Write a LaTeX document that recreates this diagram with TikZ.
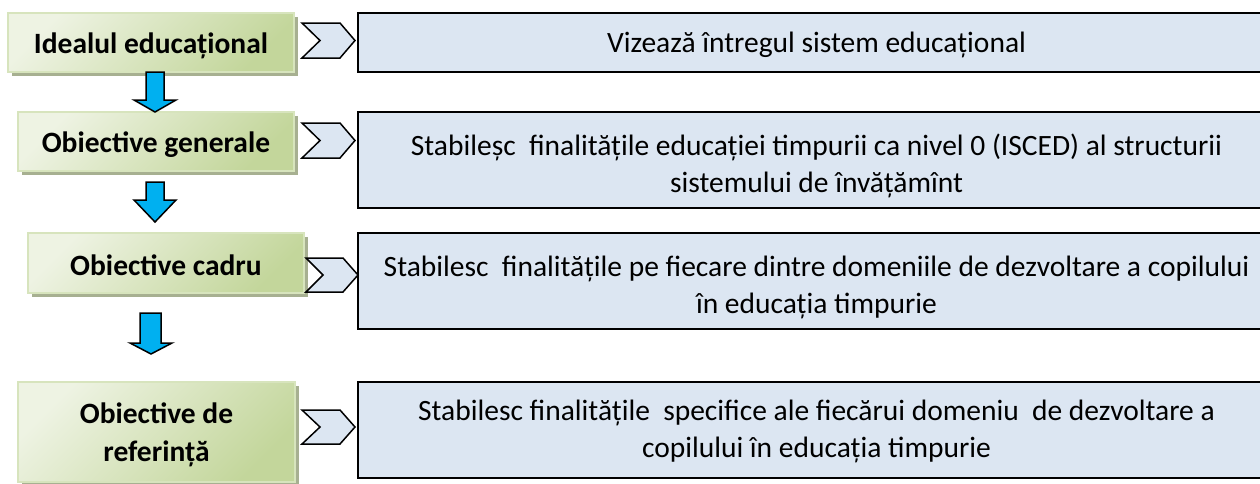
\documentclass[tikz,border=0pt]{standalone}
\usepackage{fontspec}
\setmainfont{Carlito}
\usetikzlibrary{shadows}
\definecolor{boxblue}{HTML}{DCE6F2}
\definecolor{gdark}{HTML}{C3D69B}
\definecolor{glight}{HTML}{EEF3E3}
\definecolor{gedge}{HTML}{D7E4BD}
\definecolor{arrowblue}{HTML}{00B0F0}
\definecolor{shadowgray}{HTML}{A7B091}
\begin{document}
\begin{tikzpicture}[x=1pt,y=-1pt,
  greenbox/.style={draw=gedge, line width=1.5pt, top color=gdark, bottom color=glight, shading angle=-135,
    drop shadow={shadow xshift=4pt, shadow yshift=-4pt, fill=shadowgray, opacity=1}, inner sep=0pt},
  greentext/.style={font=\fontsize{29.5}{38}\selectfont\bfseries, align=center, inner sep=0pt},
  bluebox/.style={draw=black, line width=2.2pt, fill=boxblue, inner sep=0pt, minimum width=917pt},
  bluetext/.style={font=\fontsize{29.5}{37}\selectfont, align=center, inner sep=0pt},
  chevron/.style={draw=black, line width=1.5pt, fill=boxblue, line join=miter},
  downarrow/.style={draw=black, line width=1.5pt, fill=arrowblue, line join=miter}
]
\useasboundingbox (0,0) rectangle (1260,483);
% green boxes
\node[greenbox, minimum width=286pt, minimum height=59pt,
  label={[greentext, yshift=-3pt]center:Idealul educațional}] (g1) at (151,42.5) {};
\node[greenbox, minimum width=276pt, minimum height=59pt,
  label={[greentext, yshift=-3pt]center:Obiective generale}] (g2) at (156,141.5) {};
\node[greenbox, minimum width=276pt, minimum height=60pt,
  label={[greentext, yshift=-2pt]center:Obiective cadru}] (g3) at (166,263) {};
\node[greenbox, minimum width=277pt, minimum height=100pt,
  label={[greentext, yshift=-3pt]center:{Obiective de\\referință}}] (g4) at (156.5,432) {};
% right boxes
\node[bluebox, minimum height=59pt,
  label={[bluetext, yshift=-2pt]center:Vizează întregul sistem educațional}] (r1) at (816.5,42.5) {};
\node[bluebox, minimum height=96pt,
  label={[bluetext, yshift=-6pt]center:{Stabileșc\ \ finalitățile educației timpurii ca nivel 0 (ISCED) al structurii\\sistemului de învățămînt}}] (r2) at (816.5,160) {};
\node[bluebox, minimum height=96pt,
  label={[bluetext, yshift=-6pt]center:{Stabilesc\ \ finalitățile pe fiecare dintre domeniile de dezvoltare a copilului\\în educația timpurie}}] (r3) at (816.5,281) {};
\node[bluebox, minimum height=96pt,
  label={[bluetext, yshift=-1pt]center:{Stabilesc finalitățile\ \ specifice ale fiecărui domeniu\ \ de dezvoltare a\\copilului în educația timpurie}}] (r4) at (816.5,430) {};
% chevrons
\draw[chevron] (302,23) -- (340,23) -- (355,40.5) -- (340,58) -- (302,58) -- (320,40.5) -- cycle;
\draw[chevron] (302,123) -- (340,123) -- (355,140.5) -- (340,158) -- (302,158) -- (320,140.5) -- cycle;
\draw[chevron] (306,258) -- (343,258) -- (358,275) -- (343,292) -- (306,292) -- (323,275) -- cycle;
\draw[chevron] (302,410) -- (340,410) -- (355,427) -- (340,444) -- (302,444) -- (320,427) -- cycle;
% blue down arrows
\draw[downarrow] (146,72) -- (164,72) -- (164,100) -- (176,100) -- (155,112) -- (134,100) -- (146,100) -- cycle;
\draw[downarrow] (146,182) -- (164,182) -- (164,200) -- (176,200) -- (155,222) -- (134,200) -- (146,200) -- cycle;
\draw[downarrow] (140,313) -- (161,313) -- (161,343) -- (172,343) -- (151,354) -- (130,343) -- (140,343) -- cycle;
\end{tikzpicture}
\end{document}
